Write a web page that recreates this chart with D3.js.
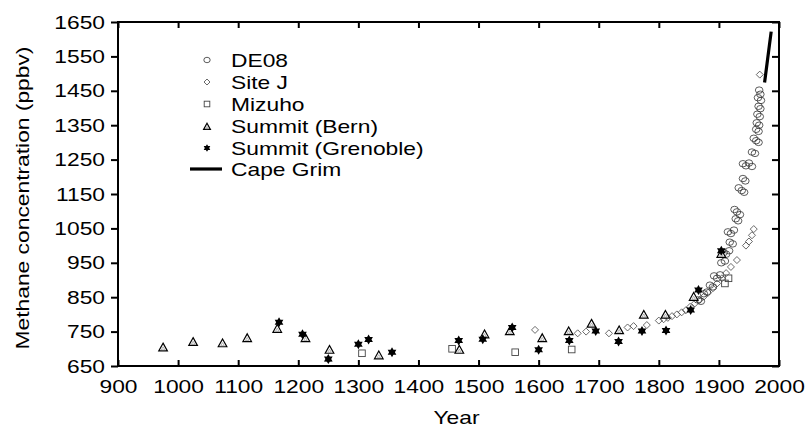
<!DOCTYPE html>
<html><head><meta charset="utf-8">
<script src="https://cdn.jsdelivr.net/npm/d3@7"></script>
<style>
html,body{margin:0;padding:0;background:#fff;}
svg text{font-family:"Liberation Sans",Arial,Helvetica,sans-serif;fill:#000;}
</style></head>
<body><svg id="c" width="809" height="428"></svg>
<script>
// ---- data (year, ppbv) ----
const xTicks = [900,1000,1100,1200,1300,1400,1500,1600,1700,1800,1900,2000];
const yTicks = [650,750,850,950,1050,1150,1250,1350,1450,1550,1650];
const legendLabels = ["DE08","Site J","Mizuho","Summit (Bern)","Summit (Grenoble)","Cape Grim"];

const de08 = [
 [1865,842],[1870,838],[1875,860],[1880,865],[1885,885],[1890,880],[1892,912],[1897,905],[1902,915],
 [1904,950],[1910,955],[1908,980],[1912,975],[1917,985],[1918,1010],[1923,1005],[1915,1040],[1920,1035],[1925,1045],
 [1928,1078],[1932,1072],[1926,1105],[1930,1098],[1935,1090],[1933,1168],[1938,1160],[1942,1155],
 [1940,1195],[1944,1188],[1940,1238],[1945,1232],[1950,1240],[1955,1230],[1955,1272],[1960,1268],
 [1958,1312],[1962,1305],[1966,1300],[1962,1338],[1966,1332],[1963,1357],[1967,1350],[1964,1382],[1968,1375],
 [1966,1405],[1969,1398],[1965,1430],[1970,1422],[1967,1452],[1969,1440]
];
const siteJ = [
 [1594,755],[1665,745],[1679,750],[1717,745],[1748,762],[1758,766],[1780,769],
 [1800,782],[1808,786],[1815,790],[1822,795],[1830,800],[1838,806],[1845,812],[1852,822],[1860,832],
 [1868,842],[1875,852],[1882,863],[1890,876],[1897,890],[1905,905],[1912,920],[1920,938],[1930,958],
 [1945,1000],[1950,1012],[1955,1030],[1958,1048],[1968,1497]
];
const mizuho = [[1306,687],[1456,700],[1561,690],[1655,698],[1910,890],[1916,905]];
const summitBern = [
 [975,703],[1025,719],[1074,715],[1115,730],[1165,757],[1212,730],[1252,696],[1334,680],
 [1468,696],[1510,741],[1552,750],[1606,730],[1650,750],[1688,772],[1734,753],[1775,798],
 [1811,798],[1858,850],[1904,975]
];
const summitGrenoble = [
 [1168,777],[1207,742],[1250,670],[1300,713],[1317,727],[1356,690],[1467,724],[1507,728],
 [1556,762],[1600,697],[1651,724],[1695,752],[1733,721],[1772,752],[1812,753],[1853,813],
 [1866,871],[1904,985]
];
const capeGrim = [[1976,1474],[1980,1528],[1984,1582],[1987,1622]];

// ---- layout ----
const svg = d3.select("#c");
const x = d3.scaleLinear().domain([900,2000]).range([118,779]);
const y = d3.scaleLinear().domain([650,1650]).range([366,22]);
const FS = 19;
const fmt = d3.format("d");

// axes
const gL = svg.append("g").attr("transform",`translate(${x(900)},0)`)
  .call(d3.axisLeft(y).tickValues(yTicks).tickFormat(fmt).tickSize(7).tickSizeOuter(0).tickPadding(6));
const gB = svg.append("g").attr("transform",`translate(0,${y(650)})`)
  .call(d3.axisBottom(x).tickValues(xTicks).tickFormat(fmt).tickSize(-6).tickSizeOuter(0).tickPadding(14));
const gT = svg.append("g").attr("transform",`translate(0,${y(1650)})`)
  .call(d3.axisTop(x).tickValues(xTicks).tickSize(-6).tickSizeOuter(0).tickFormat(""));
const gR = svg.append("g").attr("transform",`translate(${x(2000)},0)`)
  .call(d3.axisRight(y).tickValues(yTicks).tickSize(-7).tickSizeOuter(0).tickFormat(""));
[gL,gB,gT,gR].forEach(g=>{
  g.select(".domain").remove();
  g.selectAll(".tick line").attr("stroke","#000").attr("stroke-width",2);
  g.selectAll("text").attr("font-size",FS).attr("font-family",null);
});
svg.append("rect").attr("x",x(900)).attr("y",y(1650))
  .attr("width",x(2000)-x(900)).attr("height",y(650)-y(1650))
  .attr("fill","none").attr("stroke","#000").attr("stroke-width",2);

// axis titles
svg.append("text").attr("x",(x(900)+x(2000))/2+8).attr("y",424).attr("text-anchor","middle")
  .attr("font-size",FS).text("Year");
svg.append("text").attr("transform","translate(29,198) rotate(-90)").attr("text-anchor","middle")
  .attr("font-size",FS).text("Methane concentration (ppbv)");

// symbols
function circle(g,cx,cy,s){g.append("ellipse").attr("cx",cx).attr("cy",cy).attr("rx",s).attr("ry",s*0.85)
  .attr("fill","none").attr("stroke","#333").attr("stroke-width",0.8);}
function diamond(g,cx,cy,s){g.append("path").attr("d",`M${cx},${cy-s}L${cx+s},${cy}L${cx},${cy+s}L${cx-s},${cy}Z`)
  .attr("fill","none").attr("stroke","#444").attr("stroke-width",0.8);}
function square(g,cx,cy,s){g.append("rect").attr("x",cx-s).attr("y",cy-s).attr("width",2*s).attr("height",2*s)
  .attr("fill","none").attr("stroke","#444").attr("stroke-width",0.9);}
function triangle(g,cx,cy,s){
  const h=s*1.8;
  g.append("path").attr("d",`M${cx},${cy-h*0.6}L${cx+s},${cy+h*0.4}L${cx-s},${cy+h*0.4}Z`)
   .attr("fill","#fff").attr("stroke","#000").attr("stroke-width",1.2);
  const t=s*0.4,ht=t*1.8;
  g.append("path").attr("d",`M${cx},${cy-ht*0.6+0.8}L${cx+t},${cy+ht*0.4+0.8}L${cx-t},${cy+ht*0.4+0.8}Z`)
   .attr("fill","none").attr("stroke","#888").attr("stroke-width",0.6);
}
function star(g,cx,cy,s){
  let d="";
  for(let i=0;i<12;i++){const r=i%2===0?s:s*0.58;const a=Math.PI/6*i-Math.PI/2;
    d+=(i?"L":"M")+(cx+r*Math.cos(a)).toFixed(2)+","+(cy+r*Math.sin(a)).toFixed(2);}
  g.append("path").attr("d",d+"Z").attr("fill","#000");
}

const plot = svg.append("g");
siteJ.forEach(d=>diamond(plot,x(d[0]),y(d[1]),3.5));
de08.forEach(d=>circle(plot,x(d[0]),y(d[1]),3.8));
mizuho.forEach(d=>square(plot,x(d[0]),y(d[1]),3.3));
summitBern.forEach(d=>triangle(plot,x(d[0]),y(d[1]),4.3));
summitGrenoble.forEach(d=>star(plot,x(d[0]),y(d[1]),5));
plot.append("path").datum(capeGrim)
  .attr("d",d3.line().x(d=>x(d[0])).y(d=>y(d[1])))
  .attr("fill","none").attr("stroke","#000").attr("stroke-width",3.2);

// legend
const lg = svg.append("g");
const rows = [60,82,104,126,148,169];
const lx = 207;
circle(lg,lx,rows[0],3.2);
diamond(lg,lx,rows[1],3);
square(lg,lx,rows[2],2.8);
triangle(lg,lx,rows[3]+1,3.4);
star(lg,lx,rows[4],3.8);
lg.append("line").attr("x1",190).attr("x2",222).attr("y1",rows[5]).attr("y2",rows[5])
  .attr("stroke","#000").attr("stroke-width",3.2);
legendLabels.forEach((t,i)=>{
  lg.append("text").attr("x",231).attr("y",rows[i]+6.8).attr("font-size",FS).text(t);
});

// horizontal stretch of lettering to match the original typesetting
svg.selectAll("text").each(function(){
  const len=this.getComputedTextLength();
  if(len>0){d3.select(this).attr("textLength",(len*1.2).toFixed(1)).attr("lengthAdjust","spacingAndGlyphs");}
});
</script></body></html>
